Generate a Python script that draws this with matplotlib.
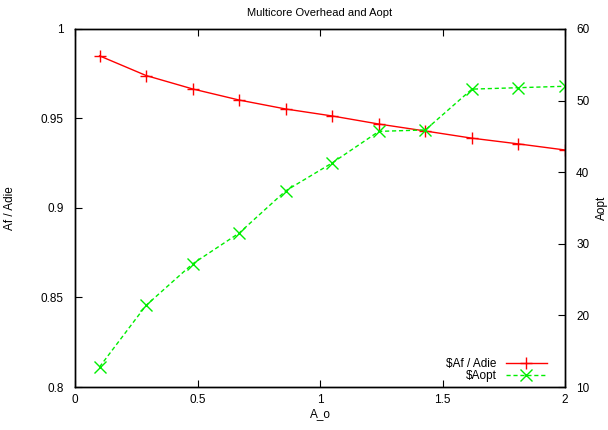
import matplotlib
matplotlib.use('Agg')
import matplotlib.pyplot as plt
import numpy as np

plt.rcParams['font.family'] = ['Liberation Sans', 'DejaVu Sans']
plt.rcParams['font.size'] = 8.5

# data
a_o = [0.1, 0.29, 0.48, 0.67, 0.86, 1.05, 1.24, 1.43, 1.62, 1.81, 2.0]
af_adie = [0.985, 0.974, 0.9665, 0.9603, 0.9553, 0.9514, 0.9469, 0.943, 0.939, 0.9358, 0.9324]
aopt = [12.8, 21.4, 27.2, 31.5, 37.4, 41.3, 45.7, 45.9, 51.6, 51.8, 52.0]

fig = plt.figure(figsize=(6.08, 4.30), dpi=100)
ax = fig.add_axes([0.1234, 0.1, 0.8059, 0.8326])
ax2 = ax.twinx()

l1, = ax.plot(a_o, af_adie, color='#ff0000', marker='+', markersize=8, lw=1,
              label=r'\$Af / Adie')
l2, = ax2.plot(a_o, aopt, color='#00ee00', marker='x', markersize=8, lw=1,
               linestyle=(0, (3, 2)), label=r'\$Aopt')

ax.set_xlim(0, 2)
ax.set_ylim(0.8, 1.0)
ax2.set_ylim(10, 60)
ax.set_xticks([0, 0.5, 1, 1.5, 2])
ax.set_xticklabels(['0', '0.5', '1', '1.5', '2'])
ax.set_yticks([0.8, 0.85, 0.9, 0.95, 1.0])
ax.set_yticklabels(['0.8', '0.85', '0.9', '0.95', '1'])
ax2.set_yticks([10, 20, 30, 40, 50, 60])

ax.tick_params(direction='in', top=True, right=False, length=5, pad=8)
ax.tick_params(axis='x', pad=5)
ax2.tick_params(direction='in', length=5, pad=8)
for a in (ax, ax2):
    for s in a.spines.values():
        s.set_linewidth(1)

ax.set_title('Multicore Overhead and Aopt', fontsize=8, pad=9)
ax.set_xlabel('A_o')
ax.xaxis.set_label_coords(0.5, -0.058)
ax.set_ylabel('Af / Adie', labelpad=18)
ax2.set_ylabel('Aopt')
ax2.yaxis.set_label_coords(1.063, 0.5)

ax.legend([l1, l2], [r'\$Af / Adie', r'\$Aopt'], loc='lower right', frameon=False,
          markerfirst=False, handlelength=3.5, bbox_to_anchor=(0.985, -0.015),
          labelspacing=0.0, handletextpad=0.8)

fig.savefig('out.png', dpi=100)
